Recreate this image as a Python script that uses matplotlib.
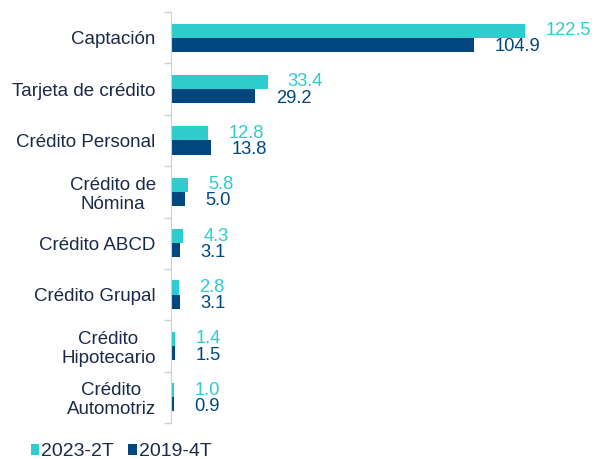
import matplotlib
matplotlib.use("Agg")
import matplotlib.pyplot as plt
import numpy as np

categories = ["Captación", "Tarjeta de crédito", "Crédito Personal", "Crédito de\nNómina",
              "Crédito ABCD", "Crédito Grupal", "Crédito\nHipotecario", "Crédito\nAutomotriz"]
s2023 = [122.5, 33.4, 12.8, 5.8, 4.3, 2.8, 1.4, 1.0]
s2019 = [104.9, 29.2, 13.8, 5.0, 3.1, 3.1, 1.5, 0.9]
series_names = ["2023-2T", "2019-4T"]

c_turq = "#2ECCCC"
c_blue = "#00467F"
c_text = "#1B2A4A"

plt.rcParams['font.family'] = ['Liberation Sans', 'DejaVu Sans']

fig = plt.figure(figsize=(5.95, 4.59), dpi=100)
ax = fig.add_axes([171/595, 1-423/459, 421/595, 411/459])

y = np.arange(len(categories))
h = 0.275
ax.barh(y - h/2, s2023, height=h, color=c_turq, label=series_names[0])
ax.barh(y + h/2, s2019, height=h, color=c_blue, label=series_names[1])

ax.set_ylim(len(categories) - 0.5, -0.5)
ax.set_xlim(0, 145.6)

off = 7.0
for i, (a, b) in enumerate(zip(s2023, s2019)):
    ax.text(a + off, i - h/2 + 0.0, f"{a:.1f}", color=c_turq, fontsize=13.2, va="center", ha="left")
    ax.text(b + off, i + h/2 + 0.04, f"{b:.1f}", color=c_blue, fontsize=13.2, va="center", ha="left")

ax.set_yticks(y)
ax.set_yticklabels(categories, fontsize=13.5, color=c_text, multialignment="center", linespacing=1.15)
ax.tick_params(axis="y", length=0, pad=11)
ax.set_yticks(np.arange(-0.5, len(categories) + 0.5, 1), minor=True)
ax.tick_params(axis="y", which="minor", length=5, color="#D0D0D0", width=1)
ax.set_xticks([])
for s in ["top", "right", "bottom"]:
    ax.spines[s].set_visible(False)
ax.spines["left"].set_color("#D0D0D0")

fig.legend(loc="lower left", bbox_to_anchor=(31/595, -0.003), ncol=2, frameon=False,
           fontsize=14, handlelength=0.42, handleheight=0.45, handletextpad=0.1,
           columnspacing=0.75, labelcolor=c_text, borderaxespad=0.0, borderpad=0.0)

fig.savefig("out.png", dpi=100)
